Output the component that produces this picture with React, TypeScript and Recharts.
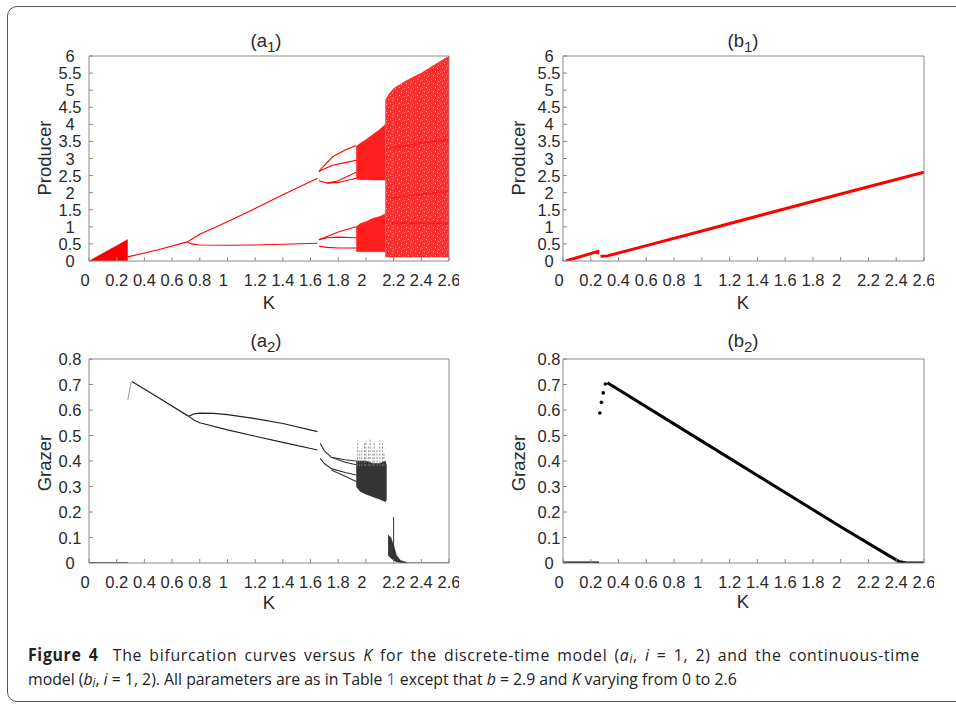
import React from "react";
import { ComposedChart, Area, Line, Scatter, XAxis, YAxis } from "recharts";

// tick values
const K_TICKS = [0, 0.2, 0.4, 0.6, 0.8, 1, 1.2, 1.4, 1.6, 1.8, 2, 2.2, 2.4, 2.6];
const PRODUCER_TICKS = [0, 0.5, 1, 1.5, 2, 2.5, 3, 3.5, 4, 4.5, 5, 5.5, 6];
const GRAZER_TICKS = [0, 0.1, 0.2, 0.3, 0.4, 0.5, 0.6, 0.7, 0.8];

// (a1) discrete model, producer — [K, value] or [K, low, high]
const A1_TRIANGLE = [[0, 0, 0], [0.28, 0, 0.63]];
const A1_P1 = [[0.28, 0.12], [0.5, 0.33], [0.71, 0.56]];
const A1_P2_UP = [[0.71, 0.56], [0.75, 0.66], [0.8, 0.78], [1.0, 1.15], [1.2, 1.54], [1.4, 1.94], [1.65, 2.42]];
const A1_P2_LO = [[0.71, 0.56], [0.74, 0.5], [0.8, 0.47], [1.0, 0.46], [1.2, 0.47], [1.4, 0.49], [1.65, 0.52]];
const A1_P4 = [
  [[1.66, 2.62], [1.7, 2.8], [1.76, 3.05], [1.85, 3.25], [1.93, 3.38]],
  [[1.66, 2.62], [1.7, 2.7], [1.76, 2.8], [1.85, 2.88], [1.93, 2.95]],
  [[1.66, 2.35], [1.72, 2.28], [1.8, 2.35], [1.93, 2.6]],
  [[1.72, 2.28], [1.8, 2.3], [1.93, 2.42]],
  [[1.66, 0.62], [1.72, 0.72], [1.8, 0.85], [1.93, 1.0]],
  [[1.66, 0.62], [1.72, 0.68], [1.8, 0.7], [1.93, 0.68]],
  [[1.66, 0.43], [1.72, 0.4], [1.8, 0.38], [1.93, 0.38]],
];
const A1_CHAOS_UP = [[1.93, 2.4, 3.35], [1.96, 2.38, 3.45], [2.0, 2.38, 3.55], [2.05, 2.37, 3.7], [2.1, 2.37, 3.85], [2.14, 2.37, 4.0]];
const A1_CHAOS_LO = [[1.93, 0.28, 1.0], [1.96, 0.27, 1.1], [2.0, 0.27, 1.15], [2.05, 0.27, 1.25], [2.1, 0.27, 1.3], [2.14, 0.27, 1.38]];
const A1_CHAOS_BIG = [[2.14, 0.12, 4.7], [2.17, 0.12, 4.9], [2.2, 0.12, 5.05], [2.3, 0.12, 5.3], [2.4, 0.12, 5.5], [2.5, 0.12, 5.75], [2.6, 0.12, 6.0]];
const A1_BANDS = [
  [[2.18, 3.3], [2.4, 3.45], [2.6, 3.55]],
  [[2.18, 1.85], [2.4, 1.95], [2.6, 2.05]],
  [[2.18, 1.1], [2.6, 1.1]],
];

// (b1) continuous model, producer
const B1_SEG1 = [[0.02, 0.0], [0.25, 0.28], [0.25, 0.2]];
const B1_SEG2 = [[0.27, 0.14], [0.32, 0.15], [0.6, 0.45], [1.0, 0.88], [1.6, 1.53], [2.0, 1.96], [2.6, 2.6]];

// (a2) discrete model, grazer
const A2_ZERO = [[0, 0], [0.28, 0]];
const A2_RISE = [[0.28, 0.64], [0.305, 0.71]];
const A2_P1 = [[0.31, 0.712], [0.5, 0.649], [0.72, 0.575]];
const A2_P2_UP = [[0.72, 0.575], [0.76, 0.585], [0.8, 0.588], [0.9, 0.587], [1.0, 0.582], [1.2, 0.566], [1.4, 0.547], [1.65, 0.515]];
const A2_P2_LO = [[0.72, 0.575], [0.76, 0.56], [0.8, 0.55], [1.0, 0.522], [1.2, 0.497], [1.4, 0.473], [1.65, 0.443]];
const A2_P4 = [
  [[1.67, 0.47], [1.7, 0.44], [1.75, 0.415], [1.85, 0.405], [1.93, 0.4]],
  [[1.75, 0.415], [1.85, 0.395], [1.93, 0.385]],
  [[1.67, 0.41], [1.7, 0.39], [1.75, 0.37], [1.85, 0.355], [1.93, 0.345]],
  [[1.75, 0.365], [1.85, 0.34], [1.93, 0.32]],
];
const A2_CHAOS = [[1.93, 0.3, 0.4], [1.96, 0.28, 0.4], [2.0, 0.27, 0.4], [2.05, 0.26, 0.39], [2.1, 0.25, 0.39], [2.14, 0.24, 0.4], [2.15, 0.25, 0.38]];
// sparse vertical streaks above the dark chaotic band: [K, top]
const A2_SPIKES = [[1.94, 0.48], [1.955, 0.44], [1.97, 0.45], [1.99, 0.47], [2.0, 0.48], [2.02, 0.46], [2.03, 0.49], [2.05, 0.44], [2.06, 0.47], [2.08, 0.45], [2.1, 0.48], [2.12, 0.47], [2.13, 0.43]];
const A2_TAIL = [[2.16, 0.03, 0.11], [2.18, 0.02, 0.1], [2.2, 0.01, 0.07], [2.22, 0.005, 0.03], [2.25, 0, 0.01], [2.3, 0, 0.002]];
const A2_SPIKE = [[2.2, 0.05], [2.2, 0.18]];
const A2_END = [[2.3, 0], [2.6, 0]];

// (b2) continuous model, grazer
const B2_ZERO = [[0, 0], [0.26, 0]];
const B2_DOTS = [[0.265, 0.588], [0.277, 0.63], [0.29, 0.667], [0.305, 0.702]];
const B2_LINE = [[0.32, 0.707], [1.0, 0.478], [2.0, 0.142], [2.35, 0.028], [2.42, 0.006], [2.47, 0], [2.6, 0]];

const FONT = '"Liberation Sans", Arial, Helvetica, sans-serif';
const AXIS = "#8a8a8a";
const TXT = "#2a2a2a";
const RED = "#ff0000";

const pts = (rows: number[][]) => rows.map(([k, v]) => ({ k, v }));
const rng = (rows: number[][]) => rows.map(([k, lo, hi]) => ({ k, r: [lo, hi] }));
// each streak is its own segment, broken by a null
const streaks = (rows: number[][], base: number) =>
  rows.flatMap(([k, top]) => [{ k, v: base }, { k, v: top }, { k, v: null }]);

const xTick = (p: any) => {
  const v = p.payload.value;
  const dx = Number.isInteger(v) ? -4 : 0;
  return (
    <text x={p.x + dx} y={p.y} textAnchor="middle" dominantBaseline="central" fontSize={16.5} fill={TXT} fontFamily={FONT}>
      {v}
    </text>
  );
};
const yTick = (p: any) => (
  <text x={p.x} y={p.y} textAnchor="middle" dominantBaseline="central" fontSize={16.5} fill={TXT} fontFamily={FONT}>
    {p.payload.value}
  </text>
);

// plot area sits at (left, top) with size w x h; chart has 60px room on the left, 50 below
function Panel({ left, top, w, h, yMax, yTicks, labelGap, children }: any) {
  return (
    <div style={{ position: "absolute", left: left - 60, top: top - 10 }}>
      <ComposedChart width={w + 70} height={h + 60} margin={{ top: 9, right: 9, left: 0, bottom: 0 }}>
        <XAxis dataKey="k" type="number" domain={[0, 2.6]} ticks={K_TICKS} height={50} allowDataOverflow
          stroke={AXIS} tickSize={-4} tickMargin={23} tick={xTick} interval={0} />
        <XAxis xAxisId="top" orientation="top" dataKey="k" type="number" domain={[0, 2.6]} ticks={K_TICKS} height={1}
          allowDataOverflow stroke={AXIS} tickSize={-4} tick={false} interval={0} />
        <YAxis type="number" domain={[0, yMax]} ticks={yTicks} width={60} allowDataOverflow
          stroke={AXIS} tickSize={-4} tickMargin={labelGap + 4} tick={yTick} interval={0} />
        <YAxis yAxisId="right" orientation="right" type="number" domain={[0, yMax]} ticks={yTicks} width={1}
          allowDataOverflow stroke={AXIS} tickSize={-4} tick={false} interval={0} />
        {children}
      </ComposedChart>
    </div>
  );
}

const redLine = (rows: number[][], key: string, width = 1.1, op = 1) => (
  <Line key={key} data={pts(rows)} dataKey="v" type="linear" stroke={RED} strokeWidth={width} strokeOpacity={op}
    dot={false} activeDot={false} isAnimationActive={false} />
);
const blackLine = (rows: number[][], key: string, width = 1.2, color = "#222") => (
  <Line key={key} data={pts(rows)} dataKey="v" type="linear" stroke={color} strokeWidth={width}
    dot={false} activeDot={false} isAnimationActive={false} />
);
const band = (rows: number[][], key: string, color: string, op: number, fill?: string) => (
  <Area key={key} data={rng(rows)} dataKey="r" type="linear" fill={fill || color} fillOpacity={op} stroke={color}
    strokeOpacity={op} strokeWidth={0.5} dot={false} activeDot={false} isAnimationActive={false} />
);

const textStyle: React.CSSProperties = { position: "absolute", fontFamily: FONT, color: TXT, whiteSpace: "nowrap" };
const subStyle: React.CSSProperties = { fontSize: "0.7em", lineHeight: 0, verticalAlign: "-0.2em" };

function Title({ x, y, letter, idx }: any) {
  return (
    <div style={{ ...textStyle, left: x, top: y, transform: "translate(-50%, -50%)", fontSize: 18.5 }}>
      ({letter}<span style={{ fontSize: 15, lineHeight: 0, verticalAlign: -5 }}>{idx}</span>)
    </div>
  );
}
function YLabel({ x, y, text }: any) {
  return (
    <div style={{ ...textStyle, left: x, top: y, transform: "translate(-50%, -50%) rotate(-90deg)", fontSize: 18.5 }}>
      {text}
    </div>
  );
}
function KLabel({ x, y }: any) {
  return <div style={{ ...textStyle, left: x, top: y, transform: "translate(-50%, -50%)", fontSize: 18.5 }}>K</div>;
}

export default function App() {
  return (
    <div style={{ position: "absolute", left: 0, top: 0, width: 956, height: 704, overflow: "hidden", background: "#fff" }}>
      <div style={{ position: "absolute", left: 7, top: 6, width: 980, height: 694, border: "1px solid #555", borderRadius: 10 }} />

      <Title x={266} y={41} letter="a" idx="1" />
      <Title x={743} y={41} letter="b" idx="1" />
      <Title x={266} y={341} letter="a" idx="2" />
      <Title x={743} y={341} letter="b" idx="2" />

      <YLabel x={45} y={158} text="Producer" />
      <YLabel x={519} y={158} text="Producer" />
      <YLabel x={45} y={463} text="Grazer" />
      <YLabel x={519} y={463} text="Grazer" />

      <KLabel x={269} y={303} />
      <KLabel x={743} y={303} />
      <KLabel x={269} y={603} />
      <KLabel x={743} y={602} />

      <Panel left={89} top={56} w={360} h={205} yMax={6} yTicks={PRODUCER_TICKS} labelGap={19}>
        <defs>
          <pattern id="speckle" width="9" height="8" patternUnits="userSpaceOnUse">
            <rect width="9" height="8" fill="#ff1a1a" />
            <rect x="1" y="1" width="1" height="1" fill="#fff" opacity="0.6" />
            <rect x="6" y="2" width="1" height="1" fill="#fff" opacity="0.45" />
            <rect x="3" y="6" width="1" height="1" fill="#fff" opacity="0.55" />
            <rect x="8" y="5" width="1" height="1" fill="#ffb0b0" />
            <rect x="4" y="3" width="1" height="1" fill="#ff7070" />
          </pattern>
        </defs>
        {band(A1_TRIANGLE, "tri", RED, 1)}
        {band(A1_CHAOS_BIG, "big", RED, 0.9, "url(#speckle)")}
        {band(A1_CHAOS_UP, "up", RED, 0.88)}
        {band(A1_CHAOS_LO, "lo", RED, 0.88)}
        {A1_BANDS.map((b, i) => redLine(b, "bd" + i, 1.5, 0.6))}
        {redLine(A1_P1, "p1")}
        {redLine(A1_P2_UP, "p2u")}
        {redLine(A1_P2_LO, "p2l")}
        {A1_P4.map((b, i) => redLine(b, "p4" + i))}
      </Panel>

      <Panel left={563} top={56} w={361} h={205} yMax={6} yTicks={PRODUCER_TICKS} labelGap={14}>
        {redLine(B1_SEG1, "s1", 3)}
        {redLine(B1_SEG2, "s2", 3)}
      </Panel>

      <Panel left={89} top={359} w={360} h={204} yMax={0.8} yTicks={GRAZER_TICKS} labelGap={19}>
        {blackLine(A2_ZERO, "z", 1.5, "#111")}
        {blackLine(A2_RISE, "rise", 1, "#999")}
        {blackLine(A2_P1, "p1")}
        {blackLine(A2_P2_UP, "p2u")}
        {blackLine(A2_P2_LO, "p2l")}
        {A2_P4.map((b, i) => blackLine(b, "p4" + i, 1.1, "#333"))}
        <Line data={streaks(A2_SPIKES, 0.38)} dataKey="v" type="linear" stroke="#777" strokeWidth={0.8}
          strokeDasharray="2 1.5" connectNulls={false} dot={false} activeDot={false} isAnimationActive={false} />
        {band(A2_CHAOS, "ch", "#111", 0.85)}
        {band(A2_TAIL, "tail", "#111", 0.85)}
        {blackLine(A2_SPIKE, "spk", 1, "#333")}
        {blackLine(A2_END, "end", 1, "#444")}
      </Panel>

      <Panel left={563} top={359} w={361} h={204} yMax={0.8} yTicks={GRAZER_TICKS} labelGap={14}>
        {blackLine(B2_ZERO, "z", 3, "#000")}
        {blackLine(B2_LINE, "l", 3, "#000")}
        <Scatter data={pts(B2_DOTS)} dataKey="v" isAnimationActive={false}
          shape={(p: any) => <circle cx={p.cx} cy={p.cy} r={1.8} fill="#000" />} />
      </Panel>

      {/* justified caption: first line stretched to the full width, last line left as is */}
      <div style={{ position: "absolute", left: 28, top: 643, width: 959, fontFamily: '"Open Sans", "Noto Sans", sans-serif', fontSize: 17, lineHeight: "24px", color: "#222", whiteSpace: "nowrap", transformOrigin: "0 0", transform: "scaleX(0.93)" }}>
        <div style={{ textAlign: "justify", textAlignLast: "justify", letterSpacing: "0.75px" }}><b>Figure 4</b>&nbsp; The bifurcation curves versus <i>K</i> for the discrete-time model (<i>a<span style={subStyle}>i</span></i>, <i>i</i> = 1, 2) and the continuous-time</div>
        <div>model (<i>b<span style={subStyle}>i</span></i>, <i>i</i> = 1, 2). All parameters are as in Table <span style={{ color: "#2b6cd4" }}>1</span> except that <i>b</i> = 2.9 and <i>K</i> varying from 0 to 2.6</div>
      </div>
    </div>
  );
}
